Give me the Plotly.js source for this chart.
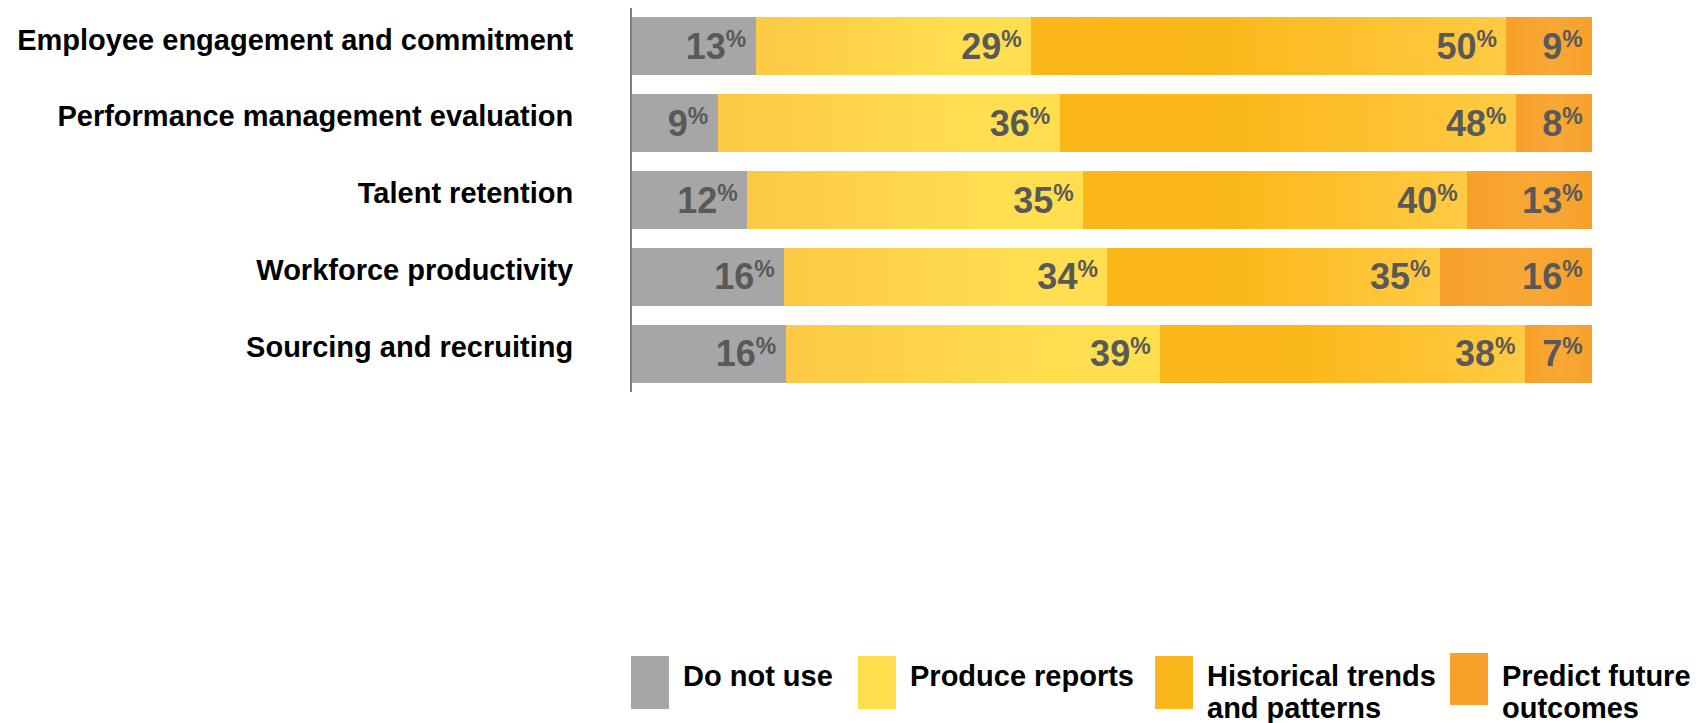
<!DOCTYPE html>
<html>
<head>
<meta charset="utf-8">
<script src="https://cdn.plot.ly/plotly-3.0.1.min.js"></script>
<style>
  html, body { margin: 0; padding: 0; background: #ffffff; }
  #plot { width: 1705px; height: 723px; }
</style>
</head>
<body>
<div id="plot"></div>
<script>
// ---------- data ----------
const categories = [
  "Employee engagement and commitment",
  "Performance management evaluation",
  "Talent retention",
  "Workforce productivity",
  "Sourcing and recruiting"
];
const seriesNames = ["Do not use", "Produce reports", "Historical trends<br>and patterns", "Predict future<br>outcomes"];
const doNotUse        = [13, 9, 12, 16, 16];
const produceReports  = [29, 36, 35, 34, 39];
const historicalTrends = [50, 48, 40, 35, 38];
const predictFuture   = [9, 8, 13, 16, 7];

// ---------- style ----------
const seriesValues = [doNotUse, produceReports, historicalTrends, predictFuture];
const solidColors = ["#A6A6A6", "#FFDE4D", "#FBB81C", "#F7A12A"];
const gradientStops = [
  [[0, "#A6A6A6"], [1, "#A6A6A6"]],
  [[0, "#FCC944"], [0.75, "#FFDF4F"], [1, "#FFDF4F"]],
  [[0, "#FBB71A"], [0.4, "#FBB81C"], [1, "#FFCB43"]],
  [[0, "#F7A02A"], [0.55, "#F8A836"], [1, "#F7A02A"]]
];
const FONT = '"Liberation Sans", Arial, Helvetica, sans-serif';
const W = 1705, H = 723;
const M = {l: 632, r: 113, t: 8, b: 331};
const plotW = W - M.l - M.r, plotH = H - M.t - M.b;
const pxX = x => (x - M.l) / plotW;
const pxY = y => (H - M.b - y) / plotH;

const pctTag = '<span style="font-size:23px;baseline-shift:12px">%\u00A0</span>';

const traces = seriesValues.map((vals, i) => ({
  type: "bar",
  orientation: "h",
  name: seriesNames[i].replace("<br>", " "),
  y: categories,
  x: vals,
  text: vals.map(v => v + pctTag),
  textposition: "inside",
  insidetextanchor: "end",
  constraintext: "none",
  textfont: {family: FONT, size: 36, color: "#595959", weight: "bold"},
  marker: {color: solidColors[i], line: {width: 0}},
  hoverinfo: "skip",
  showlegend: false
}));

// manual legend (large swatches, as in the original)
const legendLeft = [631, 858, 1155, 1450];
const shapes = [], annotations = [];
seriesNames.forEach((name, i) => {
  const x0 = legendLeft[i];
  shapes.push({
    type: "rect", xref: "paper", yref: "paper",
    x0: pxX(x0), x1: pxX(x0 + 38),
    y0: pxY(i === 3 ? 653 : 656), y1: pxY(i === 3 ? 705 : 709),
    fillcolor: solidColors[i], line: {width: 0}
  });
  name.split("<br>").forEach((line, j) => {
    annotations.push({
      xref: "paper", yref: "paper",
      x: pxX(x0 + 50), y: pxY(676 + j * 32),
      xanchor: "left", yanchor: "middle",
      text: line, showarrow: false, align: "left",
      font: {family: FONT, size: 29, color: "#000000", weight: "bold"}
    });
  });
});

const layout = {
  width: W, height: H,
  margin: M,
  paper_bgcolor: "#ffffff",
  plot_bgcolor: "#ffffff",
  barmode: "stack",
  barnorm: "percent",
  bargap: 0.245,
  showlegend: false,
  xaxis: {
    range: [0, 100],
    showgrid: false, zeroline: false, showline: false,
    showticklabels: false, ticks: "", fixedrange: true
  },
  yaxis: {
    autorange: "reversed",
    showgrid: false, zeroline: false,
    showline: true, linecolor: "#808080", linewidth: 2,
    ticks: "",
    ticklabelstandoff: 51,
    ticklabelshift: 7,
    tickfont: {family: FONT, size: 29, color: "#000000", weight: "bold"},
    fixedrange: true
  },
  shapes: shapes,
  annotations: annotations,
  font: {family: FONT}
};

Plotly.newPlot("plot", traces, layout, {displayModeBar: false, staticPlot: true}).then(gd => {
  // apply horizontal gradients to bar segments
  const svg = gd.querySelector(".main-svg");
  const NS = "http://www.w3.org/2000/svg";
  let defs = svg.querySelector("defs");
  if (!defs) { defs = document.createElementNS(NS, "defs"); svg.insertBefore(defs, svg.firstChild); }
  gradientStops.forEach((stops, i) => {
    const g = document.createElementNS(NS, "linearGradient");
    g.setAttribute("id", "segGrad" + i);
    g.setAttribute("x1", "0"); g.setAttribute("x2", "1");
    g.setAttribute("y1", "0"); g.setAttribute("y2", "0");
    stops.forEach(([o, c]) => {
      const s = document.createElementNS(NS, "stop");
      s.setAttribute("offset", o);
      s.setAttribute("stop-color", c);
      g.appendChild(s);
    });
    defs.appendChild(g);
  });
  gd.querySelectorAll(".barlayer .trace").forEach((tr, i) => {
    tr.querySelectorAll(".point path").forEach(p => {
      p.style.fill = "url(#segGrad" + i + ")";
    });
  });
});
</script>
</body>
</html>
